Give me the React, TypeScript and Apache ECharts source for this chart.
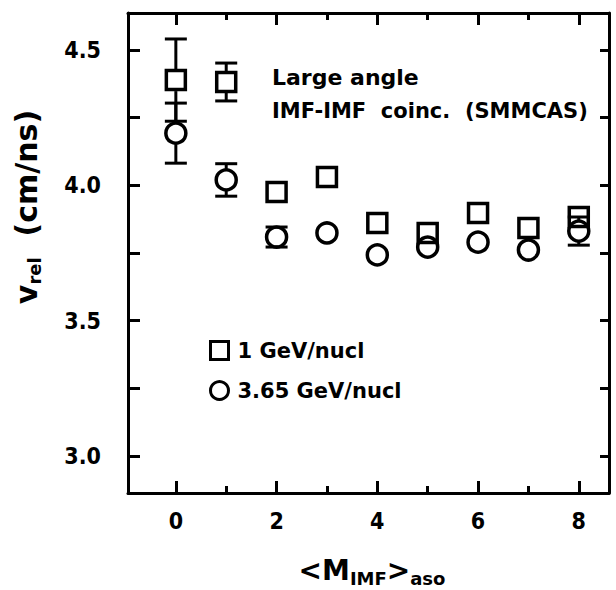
import React, { useEffect, useRef } from "react";
import * as echarts from "echarts";

const xValues = [0, 1, 2, 3, 4, 5, 6, 7, 8];
const v1GeV = [4.389, 4.382, 3.975, 4.031, 3.861, 3.824, 3.898, 3.842, 3.883];
const err1GeV = [0.152, 0.07, 0, 0, 0, 0, 0, 0, 0];
const v365GeV = [4.193, 4.02, 3.809, 3.824, 3.743, 3.772, 3.79, 3.761, 3.831];
const err365GeV = [0.111, 0.06, 0.037, 0, 0, 0, 0, 0, 0.052];
const xMajorTicks = [0, 2, 4, 6, 8];
const xMinorTicks = [1, 3, 5, 7];
const yTicks = [3.0, 3.25, 3.5, 3.75, 4.0, 4.25, 4.5];
const yLabels = [3.0, 3.5, 4.0, 4.5];
const seriesNames = ["1 GeV/nucl", "3.65 GeV/nucl"];

const NUM_FONT = '"Liberation Sans Narrow", "DejaVu Sans Condensed", "Liberation Sans", sans-serif';
const TXT_FONT = '"DejaVu Sans", "Liberation Sans", sans-serif';

const X_MIN = -0.95;
const X_MAX = 8.6;
const Y_MIN = 2.863;
const Y_MAX = 4.637;

function errorBarItem(half: number) {
  return (params: any, api: any) => {
    const x = api.value(0);
    const y = api.value(1);
    const e = api.value(2);
    if (!e) return null;
    const c = api.coord([x, y]);
    const t = api.coord([x, y + e]);
    const b = api.coord([x, y - e]);
    const style = { stroke: "#000", lineWidth: 3 };
    const children: any[] = [
      { type: "line", shape: { x1: c[0] - half, y1: t[1], x2: c[0] + half, y2: t[1] }, style },
      { type: "line", shape: { x1: c[0] - half, y1: b[1], x2: c[0] + half, y2: b[1] }, style },
    ];
    if (t[1] < c[1] - half) {
      children.push({ type: "line", shape: { x1: c[0], y1: t[1], x2: c[0], y2: c[1] - half }, style });
    }
    if (b[1] > c[1] + half) {
      children.push({ type: "line", shape: { x1: c[0], y1: c[1] + half, x2: c[0], y2: b[1] }, style });
    }
    return { type: "group", children };
  };
}

export default function App() {
  const ref = useRef<HTMLDivElement>(null);
  useEffect(() => {
    if (!ref.current) return;
    const chart = echarts.init(ref.current, null, { renderer: "svg" });
    const lineStyle = { color: "#000", width: 3 };
    const baseX = {
      type: "value",
      min: X_MIN,
      max: X_MAX,
      splitLine: { show: false },
    };
    const baseY = {
      type: "value",
      min: Y_MIN,
      max: Y_MAX,
      splitLine: { show: false },
    };
    const tickStyle = { color: "#000", width: 3 };
    const markerStyle = { color: "rgba(0,0,0,0)", borderColor: "#000", borderWidth: 3.5, opacity: 1 };
    const option: any = {
      animation: false,
      backgroundColor: "#fff",
      grid: { left: 128, right: 7, top: 13, bottom: 97, containLabel: false },
      xAxis: [
        {
          ...baseX,
          position: "bottom",
          axisLine: { show: true, onZero: false, lineStyle },
          axisTick: { show: true, inside: true, length: 12, customValues: xMajorTicks, lineStyle: tickStyle },
          axisLabel: {
            show: true,
            customValues: xMajorTicks,
            margin: 16,
            color: "#000",
            fontFamily: NUM_FONT,
            fontWeight: "bold",
            fontSize: 23,
          },
        },
        {
          ...baseX,
          position: "bottom",
          axisLine: { show: false, onZero: false },
          axisTick: { show: true, inside: true, length: 7, customValues: xMinorTicks, lineStyle: tickStyle },
          axisLabel: { show: false },
        },
        {
          ...baseX,
          position: "top",
          axisLine: { show: true, onZero: false, lineStyle },
          axisTick: { show: true, inside: true, length: 12, customValues: xMajorTicks, lineStyle: tickStyle },
          axisLabel: { show: false },
        },
        {
          ...baseX,
          position: "top",
          axisLine: { show: false, onZero: false },
          axisTick: { show: true, inside: true, length: 7, customValues: xMinorTicks, lineStyle: tickStyle },
          axisLabel: { show: false },
        },
      ],
      yAxis: [
        {
          ...baseY,
          position: "left",
          axisLine: { show: true, onZero: false, lineStyle },
          axisTick: { show: true, inside: true, length: 12, customValues: yTicks, lineStyle: tickStyle },
          axisLabel: {
            show: true,
            customValues: yLabels,
            formatter: (v: number) => v.toFixed(1),
            margin: 27,
            color: "#000",
            fontFamily: NUM_FONT,
            fontWeight: "bold",
            fontSize: 23,
          },
        },
        {
          ...baseY,
          position: "right",
          axisLine: { show: true, onZero: false, lineStyle },
          axisTick: { show: true, inside: true, length: 9, customValues: yTicks, lineStyle: tickStyle },
          axisLabel: { show: false },
        },
      ],
      legend: {
        orient: "vertical",
        left: 204,
        top: 335,
        itemWidth: 18,
        itemHeight: 18,
        itemGap: 19,
        data: [
          { name: seriesNames[0], icon: "rect" },
          { name: seriesNames[1], icon: "circle" },
        ],
        itemStyle: { color: "rgba(0,0,0,0)", borderColor: "#000", borderWidth: 3, opacity: 1 },
        textStyle: { color: "#000", fontFamily: TXT_FONT, fontWeight: "bold", fontSize: 21, padding: [0, 0, 0, 4] },
      },
      graphic: [
        {
          type: "text",
          left: 272,
          top: 66,
          style: { text: "Large angle", fill: "#000", font: `bold 22px ${TXT_FONT}` },
        },
        {
          type: "text",
          left: 272,
          top: 100,
          style: { text: "IMF-IMF  coinc.  (SMMCAS)", fill: "#000", font: `bold 21px ${TXT_FONT}` },
        },
        {
          type: "text",
          x: 26,
          y: 207,
          rotation: Math.PI / 2,
          style: {
            text: "{m|v}{s|rel}{m|  (cm/ns)}",
            align: "center",
            verticalAlign: "middle",
            fill: "#000",
            rich: {
              m: { fontFamily: TXT_FONT, fontWeight: "bold", fontSize: 30, fill: "#000" },
              s: { fontFamily: TXT_FONT, fontWeight: "bold", fontSize: 18, fill: "#000", padding: [16, 0, 0, 0] },
            },
          },
        },
        {
          type: "text",
          x: 372,
          y: 570,
          style: {
            text: "{m|<M}{s|IMF}{m|>}{s|aso}",
            align: "center",
            verticalAlign: "middle",
            fill: "#000",
            rich: {
              m: { fontFamily: TXT_FONT, fontWeight: "bold", fontSize: 28, fill: "#000" },
              s: { fontFamily: TXT_FONT, fontWeight: "bold", fontSize: 18, fill: "#000", padding: [16, 0, 0, 0] },
            },
          },
        },
      ],
      series: [
        {
          name: seriesNames[0],
          type: "scatter",
          symbol: "rect",
          symbolSize: 19,
          xAxisIndex: 0,
          yAxisIndex: 0,
          data: xValues.map((x, i) => [x, v1GeV[i]]),
          itemStyle: markerStyle,
          z: 3,
        },
        {
          name: seriesNames[1],
          type: "scatter",
          symbol: "circle",
          symbolSize: 20,
          xAxisIndex: 0,
          yAxisIndex: 0,
          data: xValues.map((x, i) => [x, v365GeV[i]]),
          itemStyle: markerStyle,
          z: 3,
        },
        {
          name: "err1",
          type: "custom",
          xAxisIndex: 0,
          yAxisIndex: 0,
          renderItem: errorBarItem(11),
          data: xValues.map((x, i) => [x, v1GeV[i], err1GeV[i]]),
          z: 2,
        },
        {
          name: "err365",
          type: "custom",
          xAxisIndex: 0,
          yAxisIndex: 0,
          renderItem: errorBarItem(11),
          data: xValues.map((x, i) => [x, v365GeV[i], err365GeV[i]]),
          z: 2,
        },
      ],
    };
    chart.setOption(option);
    return () => chart.dispose();
  }, []);
  return (
    <div
      ref={ref}
      style={{ position: "absolute", left: 0, top: 0, width: 616, height: 590 }}
    />
  );
}
